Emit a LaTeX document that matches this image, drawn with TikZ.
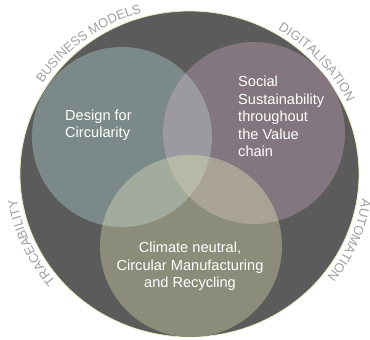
\documentclass[tikz,border=0pt]{standalone}
\usepackage{fontspec}
\newfontfamily\lsans{Liberation Sans}
\usetikzlibrary{decorations.text,calc}
\definecolor{bigbg}{HTML}{5B5B5B}
\definecolor{rimcol}{HTML}{E6EBC2}
\definecolor{colL}{HTML}{7B8A89}
\definecolor{colR}{HTML}{83767F}
\definecolor{colB}{HTML}{8B8C7A}
\definecolor{colLR}{HTML}{9D99A1}
\definecolor{colLB}{HTML}{A3AB9C}
\definecolor{colRB}{HTML}{A9A296}
\definecolor{colC}{HTML}{B8B8A8}
\definecolor{txtgray}{HTML}{A0A0A0}
\tikzset{
  lbl/.style={text=white, font=\lsans\fontsize{14.6}{17.5}\selectfont, inner sep=0pt},
  arclbl/.style={decorate, decoration={text along path, text align=center,
     text={|\color{txtgray}\lsans\fontsize{13}{13}\selectfont|#1}}}
}
\begin{document}
\begin{tikzpicture}[x=1pt,y=1pt]
\useasboundingbox (0,0) rectangle (370,340);
\coordinate (c) at (189.5,166);
\coordinate (L) at (122,203);
\coordinate (R) at (254,207);
\coordinate (B) at (191,94);
% big ellipse
\fill[bigbg, draw=rimcol, line width=0.8pt] (c) ellipse [x radius=169.5pt, y radius=163pt];
% circles
\fill[colL] (L) circle[radius=90pt];
\fill[colR] (R) circle[radius=91pt];
\fill[colB] (B) circle[radius=91pt];
% overlaps
\begin{scope}\clip (L) circle[radius=90pt]; \fill[colLR] (R) circle[radius=91pt];\end{scope}
\begin{scope}\clip (L) circle[radius=90pt]; \fill[colLB] (B) circle[radius=91pt];\end{scope}
\begin{scope}\clip (R) circle[radius=91pt]; \fill[colRB] (B) circle[radius=91pt];\end{scope}
\begin{scope}\clip (L) circle[radius=90pt]; \clip (R) circle[radius=91pt]; \fill[colC] (B) circle[radius=91pt];\end{scope}
% labels
\node[lbl, align=left, anchor=west] (tL) at (65,215) {Design for\\Circularity};
\node[lbl, align=left, anchor=west] (tR) at (238,223.3) {Social\\Sustainability\\throughout\\the Value\\chain};
\node[lbl, align=center, anchor=center] (tB) at (190,73.3) {Climate neutral,\\Circular Manufacturing\\and Recycling};
% outer arc labels
\path[arclbl={BUSINESS MODELS}] ($(c)+(170:174.5pt and 167.5pt)$) arc[start angle=170, end angle=84, x radius=174.5pt, y radius=167.5pt];
\path[arclbl={DIGITALISATION}] ($(c)+(80:174.5pt and 167.5pt)$) arc[start angle=80, end angle=4, x radius=174.5pt, y radius=167.5pt];
\path[arclbl={AUTOMATION}] ($(c)+(15:174.5pt and 167.5pt)$) arc[start angle=15, end angle=-61, x radius=174.5pt, y radius=167.5pt];
\path[arclbl={TRACEABILITY}] ($(c)+(242:174.5pt and 167.5pt)$) arc[start angle=242, end angle=166, x radius=174.5pt, y radius=167.5pt];
\end{tikzpicture}
\end{document}
